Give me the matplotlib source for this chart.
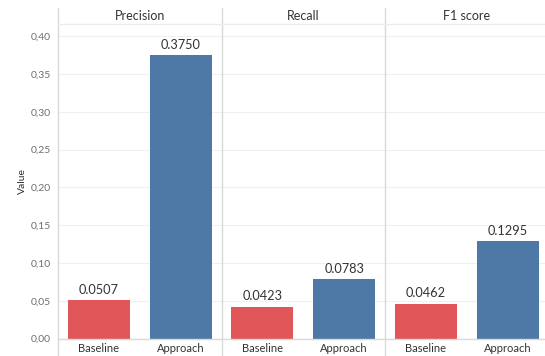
import matplotlib.pyplot as plt
from matplotlib.lines import Line2D
from matplotlib.ticker import FuncFormatter

plt.rcParams['font.family'] = ['Lato', 'DejaVu Sans']

metrics = ['Precision', 'Recall', 'F1 score']
methods = ['Baseline', 'Approach']
baseline = [0.0507, 0.0423, 0.0462]
approach = [0.3750, 0.0783, 0.1295]
colors = ['#E15759', '#4E79A7']
yticks = [0.0, 0.05, 0.10, 0.15, 0.20, 0.25, 0.30, 0.35, 0.40]

W, H = 545, 356
fig = plt.figure(figsize=(W / 100, H / 100), dpi=100)

left_px, panel_px = 58, 163.5
top_px, bottom_px, head_px = 24, 338.5, 8
line_col = '#d9d9d9'

def fx(px):
    return px / W

def fy(px):
    return 1 - px / H

for i, metric in enumerate(metrics):
    x0 = left_px + i * panel_px
    ax = fig.add_axes([fx(x0), fy(bottom_px), fx(panel_px), fy(top_px) - fy(bottom_px)])
    vals = [baseline[i], approach[i]]
    ax.bar(range(len(methods)), vals, width=0.756, color=colors, zorder=3)
    for j, v in enumerate(vals):
        ax.annotate(f'{v:.4f}', (j, v), xytext=(0, 3), textcoords='offset points',
                    ha='center', va='bottom', fontsize=9.2, color='#333333')
    ax.set_xlim(-0.5, 1.5)
    ax.set_ylim(0, 0.4163)
    ax.set_yticks(yticks)
    ax.grid(axis='y', color='#f0f0f0', linewidth=0.8, zorder=0)
    ax.set_xticks(range(len(methods)))
    ax.set_xticklabels(methods, fontsize=8, color='#333333')
    ax.tick_params(length=0, pad=3)
    for s in ax.spines.values():
        s.set_visible(False)
    if i == 0:
        ax.yaxis.set_major_formatter(FuncFormatter(lambda v, p: f'{v:.2f}'.replace('.', ',')))
        ax.tick_params(axis='y', labelsize=7.5, labelcolor='#6e6e6e', pad=5)
        ax.set_ylabel('Value', fontsize=7.5, color='#333333', labelpad=3)
    else:
        ax.set_yticklabels([])
    # panel header
    fig.text(fx(x0 + panel_px / 2), fy((head_px + top_px) / 2), metric,
             ha='center', va='center', fontsize=9, color='#333333')

# panel dividers, header rule and baseline
for i in range(len(metrics)):
    xp = fx(left_px + i * panel_px)
    fig.add_artist(Line2D([xp, xp], [fy(head_px), 0], color=line_col, linewidth=1))
fig.add_artist(Line2D([fx(left_px), 1], [fy(top_px), fy(top_px)], color='#ececec', linewidth=1))
fig.add_artist(Line2D([fx(left_px), 1], [fy(bottom_px), fy(bottom_px)], color=line_col, linewidth=1))

fig.savefig('out.png', dpi=100)
